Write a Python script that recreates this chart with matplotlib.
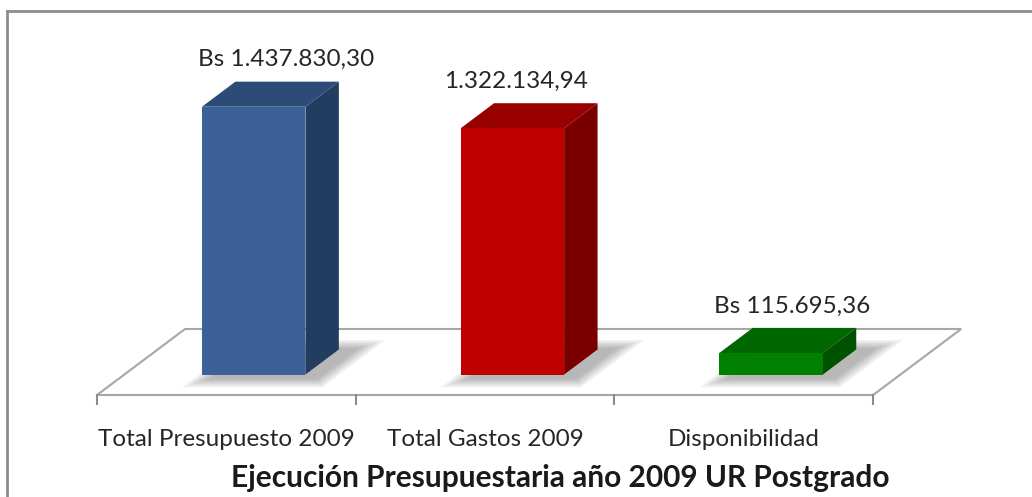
import matplotlib.pyplot as plt
from matplotlib.patches import Polygon

categories = ['Total Presupuesto 2009', 'Total Gastos 2009', 'Disponibilidad']
values = [1437830.30, 1322134.94, 115695.36]
value_labels = ['Bs 1.437.830,30', '1.322.134,94', 'Bs 115.695,36']
title = 'Ejecución Presupuestaria año 2009 UR Postgrado'

front_colors = ['#3b6196', '#c00000', '#008000']
side_colors = ['#233d60', '#7a0000', '#005200']
top_colors = ['#2c4b77', '#980000', '#006600']

plt.rcParams['font.family'] = ['Lato', 'DejaVu Sans']

W, H = 1032, 497
PX_PER_CAT = 258.7            # pixels per category slot
PX_PER_VAL = 298 / 1600000    # value axis 0..1.6M over 298 px
X0 = 226.4                    # pixel of first category centre
Y0 = 102                      # pixel (from bottom) of floor front edge
DX = 88 / PX_PER_CAT          # depth vector of the floor
DY = 66 / PX_PER_VAL
Z0, Z1 = 0.31, 0.69           # bar depth inside the floor
HALF_W = 0.2
label_nudge = [16, -13, 4]    # px, label shifts as in the original


def proj(x, y, z):
    return (x + z * DX, y + z * DY)


fig = plt.figure(figsize=(W / 100, H / 100), dpi=100)
ax = fig.add_axes([0, 0, 1, 1])
ax.set_xlim(-X0 / PX_PER_CAT, (W - X0) / PX_PER_CAT)
ax.set_ylim(-Y0 / PX_PER_VAL, (H - Y0) / PX_PER_VAL)
ax.axis('off')

# outer frame (top and left edges only are visible)
fig.add_artist(plt.Line2D([7 / W, 1], [1 - 11 / H, 1 - 11 / H], color='#8c8c8c', lw=2))
fig.add_artist(plt.Line2D([7 / W, 7 / W], [0, 1 - 11 / H], color='#8c8c8c', lw=2))

n = len(categories)
left, right = -0.5, n - 0.5

# floor
floor = [proj(left, 0, 0), proj(right, 0, 0), proj(right, 0, 1), proj(left, 0, 1)]
ax.add_patch(Polygon(floor, closed=True, facecolor='white', edgecolor='#a6a6a6', lw=1.5, zorder=1))

# category axis ticks
tick_len = 9 / PX_PER_VAL
for t in range(n + 1):
    ax.plot([t - 0.5, t - 0.5], [0, -tick_len], color='#8c8c8c', lw=1.5, zorder=2)

for i, v in enumerate(values):
    x0, x1 = i - HALF_W, i + HALF_W

    # soft shadow on the floor
    for k in range(6):
        g = 0.012 * (6 - k)
        sx = 0.06
        shadow = [proj(x0 + sx - g, 0, Z0 - 0.05 - g * 2), proj(x1 + sx + g, 0, Z0 - 0.05 - g * 2),
                  proj(x1 + sx + g, 0, Z1 + g * 2), proj(x0 + sx - g, 0, Z1 + g * 2)]
        ax.add_patch(Polygon(shadow, closed=True, facecolor='black', edgecolor='none',
                             alpha=0.05, zorder=3))

    front = [proj(x0, 0, Z0), proj(x1, 0, Z0), proj(x1, v, Z0), proj(x0, v, Z0)]
    side = [proj(x1, 0, Z0), proj(x1, 0, Z1), proj(x1, v, Z1), proj(x1, v, Z0)]
    top = [proj(x0, v, Z0), proj(x1, v, Z0), proj(x1, v, Z1), proj(x0, v, Z1)]
    ax.add_patch(Polygon(side, closed=True, facecolor=side_colors[i], edgecolor='none', zorder=4))
    ax.add_patch(Polygon(top, closed=True, facecolor=top_colors[i], edgecolor='none', zorder=4))
    ax.add_patch(Polygon(front, closed=True, facecolor=front_colors[i], edgecolor='none', zorder=5))

    lx = proj(i, v, 0.5)[0]
    ly = proj(i, v, Z1)[1] + 22 / PX_PER_VAL
    ax.text(lx + label_nudge[i] / PX_PER_CAT, ly, value_labels[i], ha='center', va='center',
            fontsize=17.5, color='#262626', zorder=6)

    ax.text(i, -44 / PX_PER_VAL, categories[i], ha='center', va='center',
            fontsize=17.5, color='#262626')

fig.text(560 / W, 1 - 478 / H, title, ha='center', va='center',
         fontsize=21.5, fontweight='bold', color='#1a1a1a')

fig.savefig('out.png', dpi=100)
